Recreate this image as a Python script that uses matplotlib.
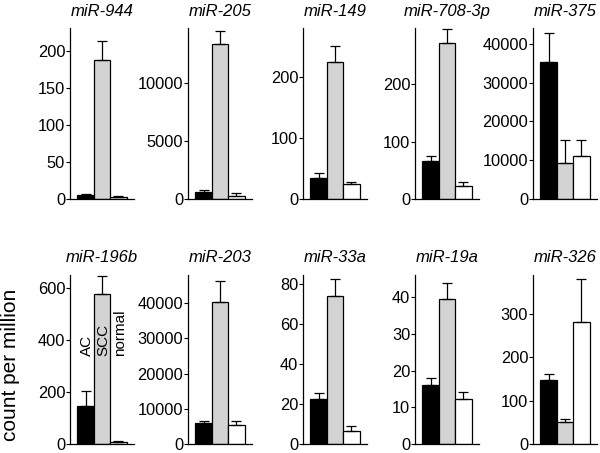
import matplotlib
matplotlib.use("Agg")
import matplotlib.pyplot as plt
import numpy as np

plt.rcParams['font.family'] = ['Liberation Sans', 'DejaVu Sans']

groups = ["AC", "SCC", "normal"]
colors = ["black", "#d3d3d3", "white"]

# top row
names_top = ["miR-944", "miR-205", "miR-149", "miR-708-3p", "miR-375"]
vals_top = [[6, 188, 3],
            [560, 13330, 280],
            [35, 225, 24],
            [67, 272, 23],
            [35400, 9200, 11100]]
err_top = [[1, 25, 0.5],
           [190, 1140, 210],
           [7, 25, 4],
           [8, 25, 6],
           [7400, 6000, 4100]]
ylim_top = [231, 14700, 280, 298, 44100]
ticks_top = [[0, 50, 100, 150, 200],
             [0, 5000, 10000],
             [0, 100, 200],
             [0, 100, 200],
             [0, 10000, 20000, 30000, 40000]]

# bottom row
names_bot = ["miR-196b", "miR-203", "miR-33a", "miR-19a", "miR-326"]
vals_bot = [[148, 575, 8],
            [5960, 40400, 5470],
            [22.5, 74.3, 6.8],
            [16, 39.4, 12.3],
            [148, 51, 282]]
err_bot = [[57, 72, 4.5],
           [740, 6000, 1230],
           [3.3, 8.4, 2.5],
           [2, 4.4, 2],
           [15, 7, 99]]
ylim_bot = [649, 48000, 84.7, 45.9, 390]
ticks_bot = [[0, 200, 400, 600],
             [0, 10000, 20000, 30000, 40000],
             [0, 20, 40, 60, 80],
             [0, 10, 20, 30, 40],
             [0, 100, 200, 300]]

fig = plt.figure(figsize=(6, 4.53), dpi=100)

lefts = [70, 188, 303, 415, 533]
W, H = 600, 453


def draw(ax, name, vals, errs, top, ticks):
    x = np.arange(3)
    ax.bar(x, vals, width=1.0, color=colors, edgecolor="black", linewidth=0.9)
    ax.errorbar(x, vals, yerr=[np.zeros(3), errs], fmt="none", ecolor="black",
                elinewidth=0.9, capsize=3.6, capthick=0.9)
    ax.set_xlim(-0.95, 2.95)
    ax.set_ylim(0, top)
    ax.set_yticks(ticks)
    ax.set_xticks([])
    ax.spines["top"].set_visible(False)
    ax.spines["right"].set_visible(False)
    ax.spines["left"].set_linewidth(0.9)
    ax.spines["bottom"].set_linewidth(0.9)
    ax.tick_params(axis="y", direction="out", length=3, width=0.8, labelsize=11.8, pad=0.5)
    ax.set_title(name, fontstyle="italic", fontsize=12, pad=9)


axes_bot = []
for i in range(5):
    ax = fig.add_axes([lefts[i] / W, (H - 199) / H, 64 / W, 171 / H])
    draw(ax, names_top[i], vals_top[i], err_top[i], ylim_top[i], ticks_top[i])
    ax2 = fig.add_axes([lefts[i] / W, (H - 444.3) / H, 64 / W, 169.3 / H])
    draw(ax2, names_bot[i], vals_bot[i], err_bot[i], ylim_bot[i], ticks_bot[i])
    axes_bot.append(ax2)

# group labels in first bottom panel
for j, g in enumerate(groups):
    axes_bot[0].text(j + 0.08, 337, g, rotation=90, ha="center", va="bottom", fontsize=11)

fig.text(11 / W, 1 - 365 / H, "count per million", rotation=90, ha="center", va="center",
         fontsize=15)

fig.savefig("out.png", dpi=100)
